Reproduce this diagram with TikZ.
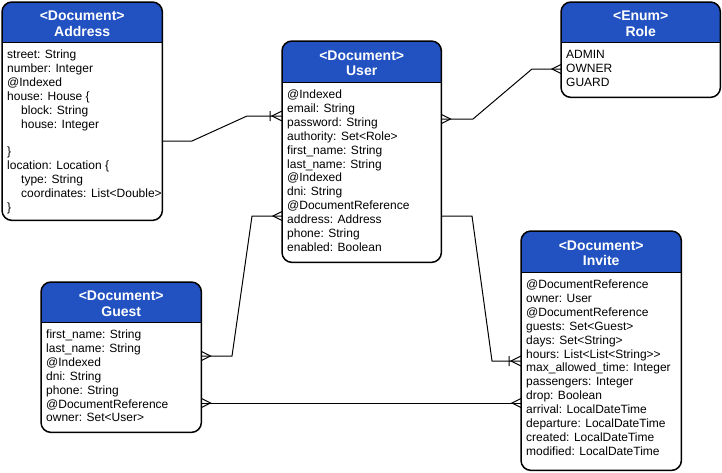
\documentclass[tikz,border=0pt]{standalone}
\usepackage{fontspec}
\setmainfont{Liberation Sans}
\usetikzlibrary{calc}

\definecolor{hdrblue}{RGB}{34,82,194}

% crow's foot (many) end, prongs spread at the entity border
\pgfdeclarearrow{
  name = Crow,
  setup code = {
    \pgfarrowssettipend{0pt}
    \pgfarrowssetlineend{0pt}
    \pgfarrowssetbackend{-9pt}
    \pgfarrowshullpoint{0pt}{4.5pt}
    \pgfarrowshullpoint{0pt}{-4.5pt}
    \pgfarrowshullpoint{-9pt}{0pt}
  },
  drawing code = {
    \pgfsetdash{}{0pt}
    \pgfpathmoveto{\pgfqpoint{0pt}{4.5pt}}
    \pgfpathlineto{\pgfqpoint{-9pt}{0pt}}
    \pgfpathlineto{\pgfqpoint{0pt}{-4.5pt}}
    \pgfusepathqstroke
  },
  defaults = {}
}
% one-to-many end: bar plus crow's foot
\pgfdeclarearrow{
  name = OneCrow,
  setup code = {
    \pgfarrowssettipend{0pt}
    \pgfarrowssetlineend{0pt}
    \pgfarrowssetbackend{-12pt}
    \pgfarrowshullpoint{0pt}{5pt}
    \pgfarrowshullpoint{0pt}{-5pt}
    \pgfarrowshullpoint{-12pt}{5pt}
    \pgfarrowshullpoint{-12pt}{-5pt}
  },
  drawing code = {
    \pgfsetdash{}{0pt}
    \pgfpathmoveto{\pgfqpoint{0pt}{5pt}}
    \pgfpathlineto{\pgfqpoint{-10pt}{0pt}}
    \pgfpathlineto{\pgfqpoint{0pt}{-5pt}}
    \pgfpathmoveto{\pgfqpoint{-12pt}{5pt}}
    \pgfpathlineto{\pgfqpoint{-12pt}{-5pt}}
    \pgfusepathqstroke
  },
  defaults = {}
}

\tikzset{
  entity/.style={draw=none, fill=white, rounded corners=10pt, inner sep=0pt},
  entityborder/.style={draw=black, line width=1.5pt, rounded corners=10pt},
  divider/.style={draw=black, line width=1pt},
  titletext/.style={text=white, align=center, inner sep=0pt,
    font=\bfseries\fontsize{14}{15.5}\selectfont},
  bodytext/.style={align=left, inner sep=0pt, anchor=north west,
    font=\fontsize{12}{13.9}\selectfont},
  conn/.style={draw=black, line width=1pt},
}

% #1 name, #2 x, #3 y, #4 width, #5 height, #6 header height,
% #7 stereotype, #8 title, #9 attribute lines
\newcommand\entitybox[9]{%
  \node[entity, minimum width=#4pt, minimum height=#5pt, anchor=north west] (#1) at (#2,#3) {};
  \begin{scope}
    \clip[rounded corners=10pt] (#1.north west) rectangle (#1.south east);
    \fill[hdrblue] (#1.north west) rectangle ([yshift=-#6pt]#1.north east);
  \end{scope}
  \draw[divider] ([yshift=-#6pt]#1.north west) -- ([yshift=-#6pt]#1.north east);
  \draw[entityborder] (#1.north west) rectangle (#1.south east);
  \node[titletext] (#1-title) at ([yshift={-#6pt/2-1.5pt}]#1.north) {#7\\#8};
  \node[bodytext] (#1-body) at ([xshift=5pt,yshift={-#6pt-6.6pt}]#1.north west) {\strut #9};
}
\newcommand\ind{\hspace*{14pt}}

\begin{document}
\begin{tikzpicture}[x=1pt, y=-1pt]
  \useasboundingbox (0,0) rectangle (722,472);

  \entitybox{addr}{2}{2}{160}{218}{40}{<Document>}{Address}{%
    street: String\\
    number: Integer\\
    @Indexed\\
    house: House \{\\
    \ind block: String\\
    \ind house: Integer\\
    \mbox{}\\
    \}\\
    location: Location \{\\
    \ind type: String\\
    \ind coordinates: List<Double>\\
    \}}

  \entitybox{user}{282}{41}{159}{221}{41}{<Document>}{User}{%
    @Indexed\\
    email: String\\
    password: String\\
    authority: Set<Role>\\
    first\_name: String\\
    last\_name: String\\
    @Indexed\\
    dni: String\\
    @DocumentReference\\
    address: Address\\
    phone: String\\
    enabled: Boolean}

  \entitybox{role}{561}{2}{159}{95}{40}{<Enum>}{Role}{%
    ADMIN\\
    OWNER\\
    GUARD}

  \entitybox{invite}{521}{231}{160}{239}{41}{<Document>}{Invite}{%
    @DocumentReference\\
    owner: User\\
    @DocumentReference\\
    guests: Set<Guest>\\
    days: Set<String>\\
    hours: List<List<String>{}>\\
    max\_allowed\_time: Integer\\
    passengers: Integer\\
    drop: Boolean\\
    arrival: LocalDateTime\\
    departure: LocalDateTime\\
    created: LocalDateTime\\
    modified: LocalDateTime}

  \entitybox{guest}{41}{282}{160}{150}{40}{<Document>}{Guest}{%
    first\_name: String\\
    last\_name: String\\
    @Indexed\\
    dni: String\\
    phone: String\\
    @DocumentReference\\
    owner: Set<User>}

  % relations
  \draw[conn, -{OneCrow}] (addr.east |- 0,141) -- (192,141) -- (247,116) -- (user.west |- 0,116);
  \draw[conn, {Crow}-{Crow}] (user.east |- 0,119) -- (473,119) -- (532,69) -- (role.west |- 0,69);
  \draw[conn, {Crow}-{Crow}] (user.west |- 0,216) -- (252,216) -- (232,356) -- (guest.east |- 0,356);
  \draw[conn, -{OneCrow}] (user.east |- 0,216) -- (472,216) -- (492,361) -- (invite.west |- 0,361);
  \draw[conn, {Crow}-{Crow}] (guest.east |- 0,403) -- (invite.west |- 0,403);
\end{tikzpicture}
\end{document}
